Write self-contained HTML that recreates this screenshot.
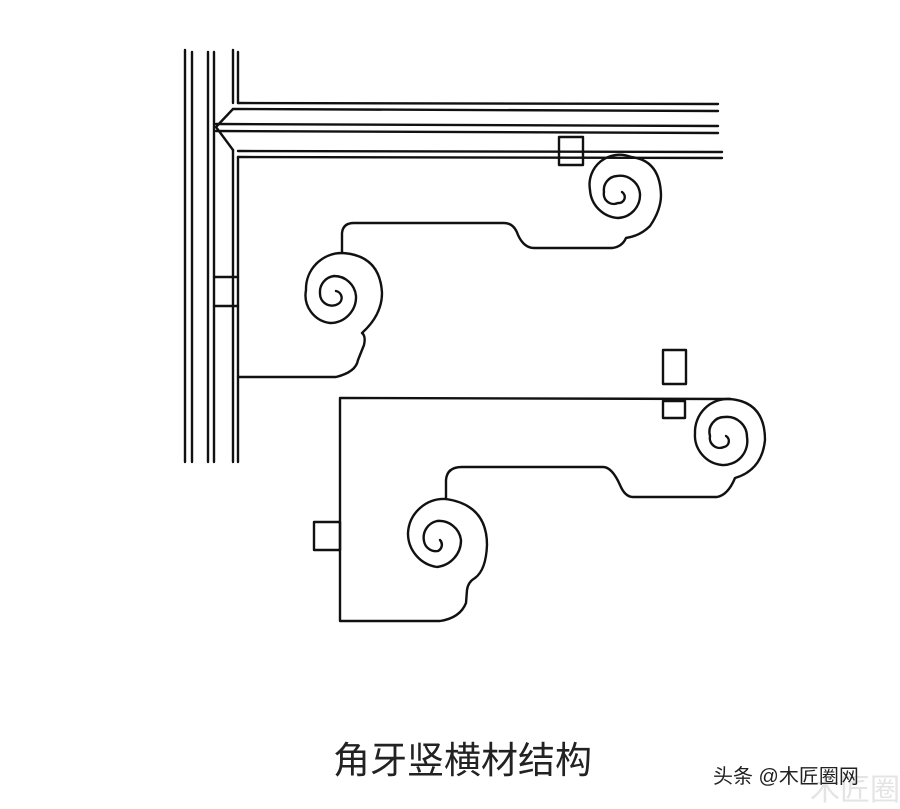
<!DOCTYPE html>
<html><head><meta charset="utf-8"><style>
html,body{margin:0;padding:0;background:#fff;}
svg{display:block;}
</style></head><body>
<svg width="900" height="809" viewBox="0 0 900 809" xmlns="http://www.w3.org/2000/svg">
<rect width="900" height="809" fill="#fff"/>
<g fill="none" stroke="#111" stroke-width="2.4" stroke-linejoin="round" stroke-linecap="round">
<!-- vertical post -->
<line x1="185" y1="50" x2="185" y2="462"/>
<line x1="192" y1="52" x2="192" y2="462"/>
<line x1="208" y1="52" x2="208" y2="462"/>
<line x1="214" y1="52" x2="214" y2="462"/>
<line x1="233" y1="50" x2="233" y2="103"/>
<line x1="238" y1="52" x2="238" y2="103"/>
<line x1="233" y1="150" x2="233" y2="462"/>
<line x1="238" y1="157" x2="238" y2="462"/>
<!-- rail -->
<path d="M238,103 L718,104"/>
<path d="M233,109 L718,111"/>
<path d="M233,109 L216,127 L233,150"/>
<path d="M216,124 L718,126"/>
<path d="M216,131 L718,133"/>
<path d="M238,151 L722,152"/>
<path d="M238,157 L722,158"/>
<!-- tenon boxes -->
<rect x="559" y="137" width="24" height="28"/>
<line x1="214" y1="277" x2="238" y2="277"/>
<line x1="214" y1="306" x2="238" y2="306"/>
<rect x="663" y="350" width="23" height="34"/>
<rect x="663" y="401" width="22" height="17"/>
<rect x="314" y="522" width="26" height="28"/>
<!-- upper bracket -->
<path d="M238,377 L336,377 Q356,372 358,360 L364,345 Q366,336 362,333 Q382,315 382,293 Q380,255 342,253"/>
<path d="M342,253 A36 36 0 0 0 306,290 A28 28 0 0 0 330,323 A26 26 0 0 0 356,296 A22 22 0 0 0 334,276 A16 16 0 0 0 320,293 A12 12 0 0 0 338,304 A7 7 0 0 0 336,291"/>
<path d="M342,253 L342,233 Q343,223 354,223 L504,223 Q514,223 518,235 Q524,248 534,248 L612,248 Q622,247 626,238 Q640,236 650,226 Q661,210 661,195 Q660,160 631,157"/>
<path d="M631,157 A30 30 0 0 0 590,190 A30 30 0 0 0 618,218 A23 23 0 0 0 640,194 A20 20 0 0 0 617,176 A14 14 0 0 0 604,192 A10 10 0 0 0 618,203 A6 6 0 0 0 622,192"/>
<!-- lower bracket -->
<path d="M340,398 L730,399 Q765,402 765,440 Q762,470 735,478 Q728,495 717,497 L633,497 Q625,497 620,485 Q612,467 603,467 L462,467 Q447,467 446,480 L446,499 Q487,505 487,545 Q486,570 475,578 Q468,582 467,590 L466,603 Q460,618 440,621 L340,621 Z"/>
<path d="M446,499 A36 36 0 0 0 408,533 A34 34 0 0 0 437,567 A27 27 0 0 0 461,540 A22 22 0 0 0 437,521 A17 17 0 0 0 424,541 A12 12 0 0 0 438,551 A7 7 0 0 0 440,540"/>
<path d="M730,399 A33 33 0 0 0 695,433 A30 30 0 0 0 722,465 A24 24 0 0 0 747,437 A20 20 0 0 0 725,417 A15 15 0 0 0 710,436 A10 10 0 0 0 724,447 A6 6 0 0 0 726,436"/>
</g>
<text x="810" y="800" font-family="'Liberation Sans','Noto Sans CJK SC',sans-serif" font-size="30" fill="#e4e4e4">木匠圈</text>
<text x="333" y="773" font-family="'Liberation Sans','Noto Sans CJK SC',sans-serif" font-size="37" fill="#222">角牙竖横材结构</text>
<text x="713" y="783" font-family="'Liberation Sans','Noto Sans CJK SC',sans-serif" font-size="20" fill="#222">头条 @木匠圈网</text>
</svg>
</body></html>
